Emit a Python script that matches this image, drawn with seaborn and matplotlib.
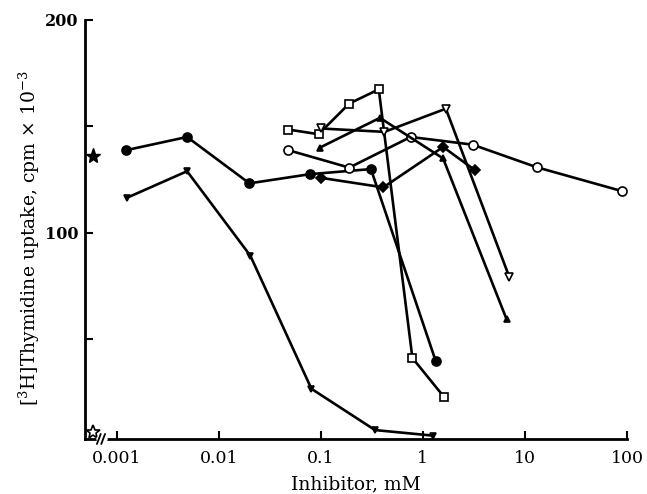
import numpy as np
import pandas as pd
import matplotlib
matplotlib.use('Agg')
import matplotlib.pyplot as plt
import seaborn as sns

# ---- data (inhibitor in mM, uptake in cpm x 10^-3) ----
circ_fill_x = [0.00124, 0.0049, 0.020, 0.078, 0.31, 1.34]
circ_fill_y = [138.8, 145.0, 123.2, 127.5, 129.9, 39.5]

tri_down_fill_x = [0.00126, 0.0049, 0.0204, 0.081, 0.34, 1.25]
tri_down_fill_y = [116.4, 128.9, 89.2, 26.6, 7.2, 4.6]

sq_open_x = [0.048, 0.095, 0.19, 0.37, 0.79, 1.61]
sq_open_y = [148.5, 146.3, 160.7, 167.4, 41.1, 22.8]

circ_open_x = [0.048, 0.19, 0.76, 3.07, 13.0, 90.0]
circ_open_y = [138.8, 130.6, 145.0, 141.4, 130.8, 119.5]

tri_fill_x = [0.098, 0.38, 1.58, 6.6]
tri_fill_y = [140.0, 154.0, 134.9, 59.4]

dia_fill_x = [0.10, 0.41, 1.58, 3.24]
dia_fill_y = [125.8, 121.3, 140.3, 129.4]

tri_down_open_x = [0.10, 0.42, 1.68, 7.0]
tri_down_open_y = [149.0, 147.4, 158.3, 79.4]

# control values drawn at the left edge (stars)
star_x = [0.00059, 0.00059]
star_y = [136.0, 6.5]

x_ticks = [0.001, 0.01, 0.1, 1, 10, 100]
x_tick_labels = ['0.001', '0.01', '0.1', '1', '10', '100']
y_ticks = [50, 100, 150, 200]
y_tick_labels = ['', '100', '', '200']

sns.set_style('ticks')
plt.rcParams['font.family'] = ['DejaVu Serif']
plt.rcParams['mathtext.fontset'] = 'dejavuserif'
plt.rcParams['text.color'] = 'black'
plt.rcParams['axes.labelcolor'] = 'black'

fig = plt.figure(figsize=(6.47, 4.94), dpi=100)
ax = fig.add_axes([85 / 647, 1 - 439 / 494, 542 / 647, 419 / 494])

series = [
    (circ_fill_x, circ_fill_y, 'o', 'black', 6.5),
    (tri_down_fill_x, tri_down_fill_y, 'v', 'black', 5),
    (sq_open_x, sq_open_y, 's', 'white', 5.5),
    (circ_open_x, circ_open_y, 'o', 'white', 6.5),
    (tri_fill_x, tri_fill_y, '^', 'black', 5),
    (dia_fill_x, dia_fill_y, 'D', 'black', 5),
    (tri_down_open_x, tri_down_open_y, 'v', 'white', 5.5),
]

for xs, ys, mk, fc, ms in series:
    df = pd.DataFrame({'conc': xs, 'uptake': ys})
    sns.lineplot(data=df, x='conc', y='uptake', ax=ax, sort=False,
                 color='black', linewidth=1.9, marker=mk, markersize=ms,
                 markerfacecolor=fc, markeredgecolor='black',
                 markeredgewidth=1.2, clip_on=False)

# stars at the left edge
ax.plot(star_x[:1], star_y[:1], linestyle='none', marker='*', markersize=11,
        color='black', clip_on=False)
ax.plot(star_x[1:], star_y[1:], linestyle='none', marker='*', markersize=10,
        markerfacecolor='white', markeredgecolor='black', markeredgewidth=1.2,
        clip_on=False)

ax.set_xscale('log')
ax.set_xlim(0.00049, 100)
ax.set_ylim(3, 200)

ax.set_xticks(x_ticks)
ax.set_xticklabels(x_tick_labels)
ax.minorticks_off()
ax.set_yticks(y_ticks)
ax.set_yticklabels(y_tick_labels, fontweight='bold')

ax.tick_params(axis='both', direction='in', length=6, width=1.5,
               labelsize=12.5, colors='black')
ax.tick_params(axis='x', pad=8)
ax.tick_params(axis='y', pad=5, labelsize=11.5)

sns.despine(ax=ax)
for side in ['left', 'bottom']:
    ax.spines[side].set_linewidth(2)
    ax.spines[side].set_color('black')

# axis break on the x axis
bx = 0.031
ax.plot([bx - 0.006, bx + 0.006], [0, 0], transform=ax.transAxes,
        color='white', linewidth=4, clip_on=False, zorder=5)
for dx in (-0.006, 0.002):
    ax.plot([bx + dx - 0.003, bx + dx + 0.004], [-0.012, 0.012],
            transform=ax.transAxes, color='black', linewidth=1.3,
            clip_on=False, zorder=6)

ax.set_xlabel('Inhibitor, mM', fontsize=13.5, labelpad=6, color='black')
ax.set_ylabel(r'[$^3$H]Thymidine uptake, cpm $\times$ 10$^{-3}$',
              fontsize=13.5, labelpad=4, color='black')
ax.yaxis.set_label_coords(-0.08, 0.48)

fig.savefig('out.png', dpi=100)
